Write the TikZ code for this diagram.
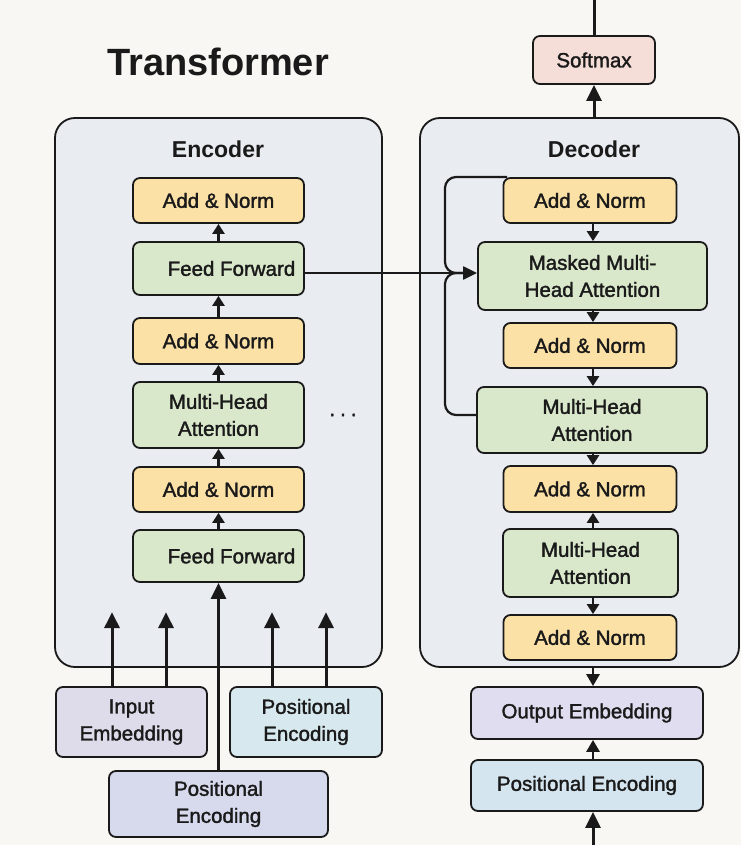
\documentclass[tikz,border=0pt]{standalone}
\usepackage{fontspec}
\setmainfont{Liberation Sans}
\newfontfamily\labelfont{Liberation Sans}[FakeBold=1.6]
\usetikzlibrary{arrows.meta}

\definecolor{pagebg}{HTML}{F8F7F3}
\definecolor{stackbg}{HTML}{E9ECF1}
\definecolor{normfill}{HTML}{FCE1A6}
\definecolor{layerfill}{HTML}{D9E7CB}
\definecolor{softfill}{HTML}{F5DDD8}
\definecolor{inembfill}{HTML}{DEDCEB}
\definecolor{peafill}{HTML}{D7E8EE}
\definecolor{pebfill}{HTML}{D6DAEC}
\definecolor{outembfill}{HTML}{E1DDF0}
\definecolor{pecfill}{HTML}{D5E5EF}
\definecolor{ink}{HTML}{1A1A1A}

\tikzset{
  blk/.style={draw=ink, line width=1.8pt, rounded corners=7pt, inner sep=0pt,
    align=center, text=ink, font=\labelfont\fontsize{20.5}{27}\selectfont},
  norm/.style={blk, fill=normfill, minimum width=173pt, minimum height=45pt},
  layer/.style={blk, fill=layerfill},
  stack/.style={draw=ink, line width=1.8pt, rounded corners=20pt, fill=stackbg},
  arr/.style={draw=ink, line width=2.6pt, -{Triangle[length=10pt,width=12pt]}},
  bigarr/.style={draw=ink, line width=3pt, -{Triangle[length=16pt,width=15pt]}},
  wire/.style={draw=ink, line width=2.2pt, rounded corners=11pt},
  heading/.style={text=ink, font=\bfseries\fontsize{23}{27}\selectfont}
}

\begin{document}
\begin{tikzpicture}[x=1pt, y=-1pt]
  % canvas
  \fill[pagebg] (0,0) rectangle (741,845);
  \useasboundingbox (0,0) rectangle (741,845);

  % title
  \node[text=ink, font=\bfseries\fontsize{38}{42}\selectfont, anchor=base] (title) at (218,76) {Transformer};

  % encoder and decoder stacks
  \draw[stack] (55,118) rectangle (382,667);
  \draw[stack] (420,118) rectangle (739,667);
  \node[heading, anchor=base] (enctitle) at (218,158) {Encoder};
  \node[heading, anchor=base] (dectitle) at (594,158) {Decoder};

  % encoder layers
  \node[norm, minimum width=171pt] (en1) at (218.5,200.5) {Add \& Norm};
  \node[layer, minimum width=171pt, minimum height=53pt] (ff1) at (218.5,268.5) {\hspace*{26pt}Feed Forward};
  \node[norm, minimum width=171pt, minimum height=46pt] (en2) at (218.5,341) {Add \& Norm};
  \node[layer, minimum width=171pt, minimum height=66pt] (mha) at (218.5,415) {Multi-Head\\Attention};
  \node[norm, minimum width=171pt] (en3) at (218.5,489.5) {Add \& Norm};
  \node[layer, minimum width=171pt, minimum height=52pt] (ff2) at (218.5,556) {\hspace*{26pt}Feed Forward};
  \node[text=ink, font=\labelfont\fontsize{20.5}{24}\selectfont] (dots) at (343,415) {.\hspace{5pt}.\hspace{5pt}.};

  % encoder inputs
  \node[blk, fill=inembfill, minimum width=151pt, minimum height=70pt] (inemb) at (131.5,722) {Input\\Embedding};
  \node[blk, fill=peafill, minimum width=152pt, minimum height=70pt] (pea) at (306,722) {Positional\\Encoding};
  \node[blk, fill=pebfill, minimum width=219pt, minimum height=66pt] (peb) at (218.5,804) {Positional\\Encoding};

  % decoder layers
  \node[blk, fill=softfill, minimum width=122pt, minimum height=48pt] (soft) at (594,60) {Softmax};
  \node[norm] (dn1) at (590,200.5) {Add \& Norm};
  \node[layer, minimum width=229pt, minimum height=68pt] (masked) at (592.5,276) {Masked Multi-\\Head Attention};
  \node[norm] (dn2) at (590,345.5) {Add \& Norm};
  \node[layer, minimum width=230pt, minimum height=66pt] (dmha1) at (592,420) {Multi-Head\\Attention};
  \node[norm, minimum height=46pt] (dn3) at (590,489) {Add \& Norm};
  \node[layer, minimum width=175pt, minimum height=68pt] (dmha2) at (590.5,563) {Multi-Head\\Attention};
  \node[norm] (dn4) at (590,637.5) {Add \& Norm};

  % decoder inputs
  \node[blk, fill=outembfill, minimum width=232pt, minimum height=52pt] (outemb) at (587,713) {Output Embedding};
  \node[blk, fill=pecfill, minimum width=232pt, minimum height=51pt] (pec) at (587,785.5) {Positional Encoding};

  % free ends of the outer wires
  \coordinate (topend) at (594,0);
  \coordinate (botend) at (593,845);
  \coordinate (decbot) at (593,667);
  \coordinate (dectop) at (594,118);
  \coordinate (looptop) at (507,177);
  \coordinate (loopjoin) at (470,273);

  % encoder flow
  \draw[arr] (ff2.north) -- (en3.south);
  \draw[arr] (en3.north) -- (mha.south);
  \draw[arr] (mha.north) -- (en2.south);
  \draw[arr] (en2.north) -- (ff1.south);
  \draw[arr] (ff1.north) -- (en1.south);

  % encoder inputs into the stack
  \draw[bigarr] (peb.north -| ff2.south) -- (ff2.south);
  \draw[bigarr] ([xshift=-19.5pt]inemb.north) -- ++(0,-74);
  \draw[bigarr] ([xshift=34.5pt]inemb.north) -- ++(0,-74);
  \draw[bigarr] ([xshift=-34pt]pea.north) -- ++(0,-74);
  \draw[bigarr] ([xshift=20pt]pea.north) -- ++(0,-74);

  % encoder output to the decoder
  \draw[draw=ink, line width=2.2pt, -{Triangle[length=14pt,width=13pt]}] ([yshift=-4.5pt]ff1.east) -- ([yshift=3pt]masked.west);

  % decoder flow
  \draw[arr] (dn1.south -| 593,0) -- (masked.north -| 593,0);
  \draw[arr] (masked.south -| 593,0) -- (dn2.north -| 593,0);
  \draw[arr] (dn2.south -| 593,0) -- (dmha1.north -| 593,0);
  \draw[arr] (dmha1.south -| 593,0) -- (dn3.north -| 593,0);
  \draw[arr] (dmha2.north -| 593,0) -- (dn3.south -| 593,0);
  \draw[arr] (dmha2.south -| 593,0) -- (dn4.north -| 593,0);

  % residual loop on the left of the decoder
  \draw[wire] (looptop) -- (445,177) -- (445,273) -- (loopjoin);
  \draw[wire] (dmha1.west |- 0,415) -- (445,415) -- (445,273) -- (loopjoin);

  % decoder in and out
  \draw[arr, line width=2.8pt, -{Triangle[length=12pt,width=13pt]}] (decbot) -- (outemb.north -| decbot);
  \draw[arr, line width=2.8pt, -{Triangle[length=12pt,width=13pt]}] (pec.north -| decbot) -- (outemb.south -| decbot);
  \draw[bigarr] (botend) -- (pec.south -| botend);
  \draw[bigarr] (dectop) -- (soft.south -| dectop);
  \draw[draw=ink, line width=3pt] (soft.north -| topend) -- (topend);
\end{tikzpicture}
\end{document}
